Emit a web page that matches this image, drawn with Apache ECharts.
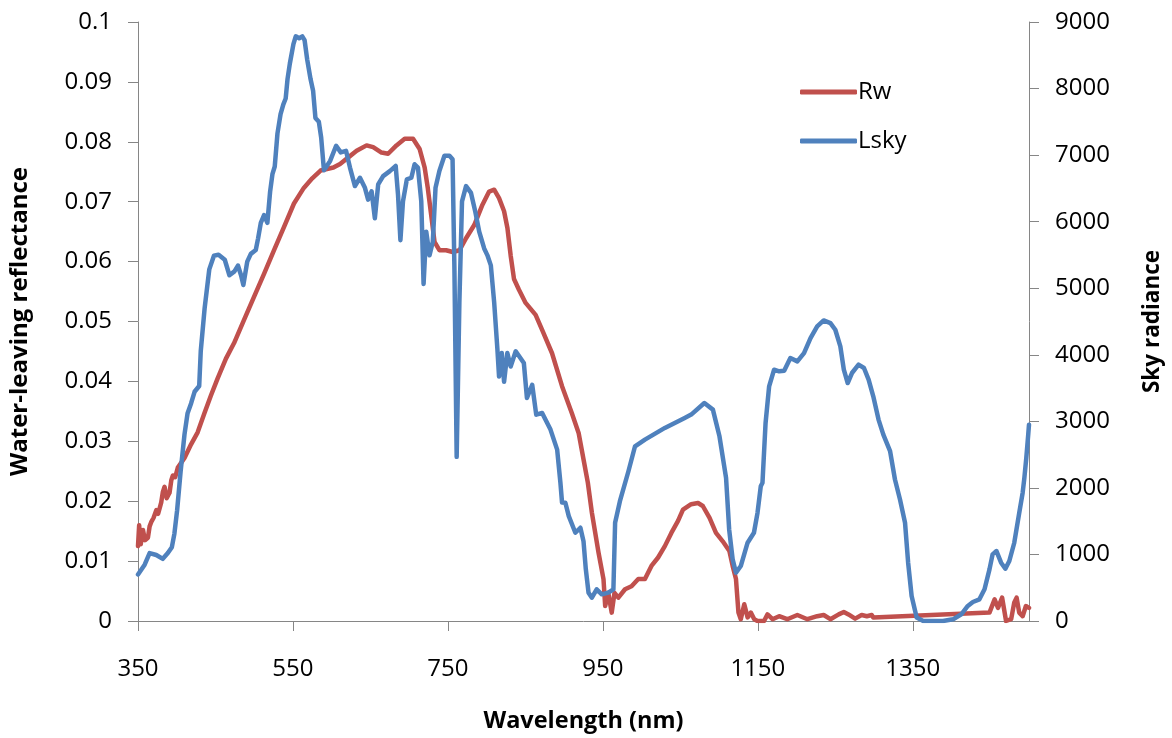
<!DOCTYPE html>
<html>
<head>
<meta charset="utf-8">
<script src="https://cdn.jsdelivr.net/npm/echarts@6/dist/echarts.min.js"></script>
<style>html,body{margin:0;padding:0;background:#fff}#c{width:1172px;height:738px}</style>
</head>
<body>
<div id="c"></div>
<script>
// Wavelength ticks (nm)
var xTicks = [350, 550, 750, 950, 1150, 1350];

// Rw: water-leaving reflectance (left axis)
var rwX = [350,351.5,353.5,356.4,359,362.8,365,367,370,373.6,376,380,382,384.3,387,390.7,393,395,398,401.4,410,418.5,427,435.7,444,452.8,463.5,474,487,500,512.8,525.6,538.5,551.3,564,574.9,585.6,602.2,610.8,621.5,632.2,645,653.5,664.3,672.8,683.6,694.2,705,713.5,720,724,728.4,732.7,739,747.7,756.2,765,773.4,784,794.6,803.2,809.7,816,822.5,826.8,831,835.3,841.7,850.3,863.2,871.6,884.4,897.3,910,918.7,925,930.6,935.8,944.4,950.8,953,957,961.4,965,970,978.6,987,995.7,1004.3,1012.7,1021.3,1030,1038.4,1047,1053.4,1064,1072.8,1079,1087.7,1096,1104.7,1113.3,1117.5,1121.8,1125,1128,1132.5,1136.8,1141,1145.4,1149.6,1158,1162.5,1169,1177.5,1188,1201,1214,1226.6,1235,1243.7,1254.4,1261,1267,1275.6,1284,1290.7,1297,1299,1449,1455.6,1460,1465.3,1470.4,1477,1481,1484,1487.4,1491.8,1496,1500];
var rwY = [0.0125,0.016,0.0128,0.0152,0.0135,0.0139,0.0158,0.0165,0.0172,0.0185,0.0179,0.0198,0.0215,0.0224,0.0205,0.0214,0.0235,0.0243,0.024,0.0256,0.0272,0.0295,0.0315,0.0347,0.0376,0.0405,0.0438,0.0464,0.0503,0.0542,0.058,0.0619,0.0658,0.0697,0.0723,0.0739,0.0752,0.0757,0.0763,0.0774,0.0785,0.0794,0.0791,0.0782,0.078,0.0794,0.0805,0.0805,0.0788,0.0757,0.0723,0.0678,0.0633,0.0619,0.0619,0.0616,0.0619,0.0639,0.0661,0.0695,0.0717,0.072,0.0706,0.0684,0.0656,0.061,0.0571,0.0553,0.0531,0.0511,0.0486,0.0447,0.0392,0.0347,0.0314,0.027,0.0231,0.0181,0.0114,0.007,0.0025,0.0047,0.0014,0.0047,0.0039,0.0053,0.0058,0.007,0.007,0.0092,0.0106,0.0125,0.0147,0.0167,0.0186,0.0195,0.0197,0.0192,0.0172,0.0147,0.0133,0.0117,0.0092,0.007,0.0014,0.0003,0.0028,0.0006,0.0014,0.0003,0,0,0.0011,0.0003,0.0008,0.0003,0.001,0.0003,0.0008,0.001,0.0003,0.0011,0.0015,0.0011,0.0004,0.001,0.0008,0.001,0.0006,0.0014,0.0036,0.0022,0.0039,0,0.0003,0.0031,0.0039,0.0014,0.0008,0.0025,0.0022];

// Lsky: sky radiance (right axis)
var lskyX = [350,358.6,365,373.6,382,388.5,393.7,397,400.5,405,410,414,418.5,423,429,431,436,442,448,454,462,468,474.5,479,483,486,488.5,491,495.6,502,505,508.5,512.7,517,520.5,523.5,526.5,530,534,537.6,540.6,543,546,550.6,553.6,558,562,565,568.4,572.7,576,579,583.4,586.4,590,592,598,605.7,611.7,618.5,623.6,630,636.5,642.9,647,651.5,655.7,660,666.4,675,682.6,685.6,688.7,692,697,702.8,707,711.3,715.6,718.6,722,726.3,730.5,734,739,745.5,752,756,758.4,761.3,764.8,768.2,773.4,779.8,785.3,790.4,796.8,801,805.4,809.7,813.9,816,819.5,822.5,826.7,831,837.5,848,852,858.8,864,871.6,882.4,891,895.2,897.3,901.6,906,914.5,921,925,928,931.5,935.8,942,948.6,957,963.6,965.8,972,983,991.5,1004.3,1030,1055.6,1064,1081,1092,1100.5,1109,1113,1117.5,1121.8,1128,1136.8,1145,1149.6,1153.8,1156,1160,1164.6,1171,1177.5,1184,1192,1201,1209.6,1218,1226.6,1235,1243.7,1250,1256.5,1261,1266,1271.5,1280,1287,1293,1299,1305.8,1312,1320.7,1327,1333.5,1340,1344,1348.5,1355,1363.5,1389,1402,1412.6,1421,1427.6,1436,1442.6,1449,1453,1458,1464,1469.5,1474.6,1481,1487.4,1491.8,1494,1496.5,1499,1500];
var lskyY = [700,846,1021,992,934,1021,1109,1313,1664,2247,2802,3123,3269,3444,3531,4057,4699,5283,5487,5504,5428,5195,5253,5341,5195,5049,5049,5399,5516,5574,5749,5983,6100,5983,6450,6713,6829,7325,7617,7763,7851,8143,8376,8668,8785,8756,8785,8727,8435,8143,7968,7559,7501,7267,6771,6742,6913,7141,7041,7065,6813,6535,6660,6508,6331,6457,6052,6559,6685,6760,6837,6406,5722,6306,6634,6660,6862,6813,6306,5065,5850,5494,5698,6508,6762,6990,6990,6939,5292,2466,4787,6306,6534,6432,6153,5850,5597,5494,5343,4787,4077,3672,4026,3595,4026,3824,4052,3876,3351,3550,3100,3125,2876,2575,2076,1780,1776,1575,1326,1401,1200,776,426,351,476,401,426,476,1476,1800,2250,2625,2726,2901,3051,3101,3276,3176,2775,2150,1376,926,726,826,1176,1326,1626,2026,2076,2976,3526,3776,3751,3760,3951,3901,4026,4251,4426,4516,4476,4376,4126,3776,3576,3726,3851,3801,3626,3376,3026,2801,2551,2126,1826,1476,876,376,51,0,0,25,101,226,286,326,476,776,1001,1051,876,786,901,1176,1626,1926,2150,2450,2800,2950];

function pairs(xs, ys){ var out=[]; for(var i=0;i<xs.length;i++) out.push([xs[i], ys[i]]); return out; }
function plain(v){ return String(v); }

var FONT = 'Open Sans';
var axisGray = '#868686';
var chart = echarts.init(document.getElementById('c'), null, {renderer:'canvas'});
chart.setOption({
  animation: false,
  backgroundColor: '#ffffff',
  grid: {left: 137, right: 140, top: 22, bottom: 116, containLabel: false},
  legend: {
    orient: 'vertical', left: 795, top: 75,
    icon: 'roundRect',
    itemWidth: 57, itemHeight: 5, itemGap: 25,
    textStyle: {fontFamily: FONT, fontSize: 24, color: '#000', padding: [0,0,0,-4]},
    data: ['Rw', 'Lsky']
  },
  xAxis: {
    type: 'value', min: 350, max: 1500, interval: 200,
    name: 'Wavelength (nm)', nameLocation: 'middle', nameGap: 88,
    nameTextStyle: {fontFamily: FONT, fontSize: 23.5, fontWeight: 'bold', color: '#000'},
    axisLine: {show: true, onZero: false, lineStyle: {color: axisGray, width: 1}},
    axisTick: {show: true, length: 10, lineStyle: {color: axisGray}},
    axisLabel: {showMaxLabel: false, margin: 36, fontFamily: FONT, fontSize: 24, color: '#000', formatter: plain},
    splitLine: {show: false}
  },
  yAxis: [{
    type: 'value', min: 0, max: 0.1, interval: 0.01, position: 'left',
    name: 'Water-leaving reflectance', nameLocation: 'middle', nameGap: 106, nameRotate: 90,
    nameTextStyle: {fontFamily: FONT, fontSize: 24, fontWeight: 'bold', color: '#000'},
    axisLine: {show: true, lineStyle: {color: axisGray, width: 1}},
    axisTick: {show: true, length: 10, lineStyle: {color: axisGray}},
    axisLabel: {margin: 26, fontFamily: FONT, fontSize: 24, color: '#000'},
    splitLine: {show: false}
  }, {
    type: 'value', min: 0, max: 9000, interval: 1000, position: 'right',
    name: 'Sky radiance', nameLocation: 'middle', nameGap: 112, nameRotate: 90,
    nameTextStyle: {fontFamily: FONT, fontSize: 22.5, fontWeight: 'bold', color: '#000'},
    axisLine: {show: true, lineStyle: {color: axisGray, width: 1}},
    axisTick: {show: true, length: 10, lineStyle: {color: axisGray}},
    axisLabel: {margin: 26, fontFamily: FONT, fontSize: 24, color: '#000', formatter: plain},
    splitLine: {show: false}
  }],
  series: [{
    name: 'Rw', type: 'line', yAxisIndex: 0, symbol: 'none',
    lineStyle: {color: '#C0504D', width: 4.5, cap: 'round', join: 'round'},
    itemStyle: {color: '#C0504D'},
    data: pairs(rwX, rwY)
  }, {
    name: 'Lsky', type: 'line', yAxisIndex: 1, symbol: 'none',
    lineStyle: {color: '#4F81BD', width: 4.5, cap: 'round', join: 'round'},
    itemStyle: {color: '#4F81BD'},
    data: pairs(lskyX, lskyY)
  }]
});
</script>
</body>
</html>
